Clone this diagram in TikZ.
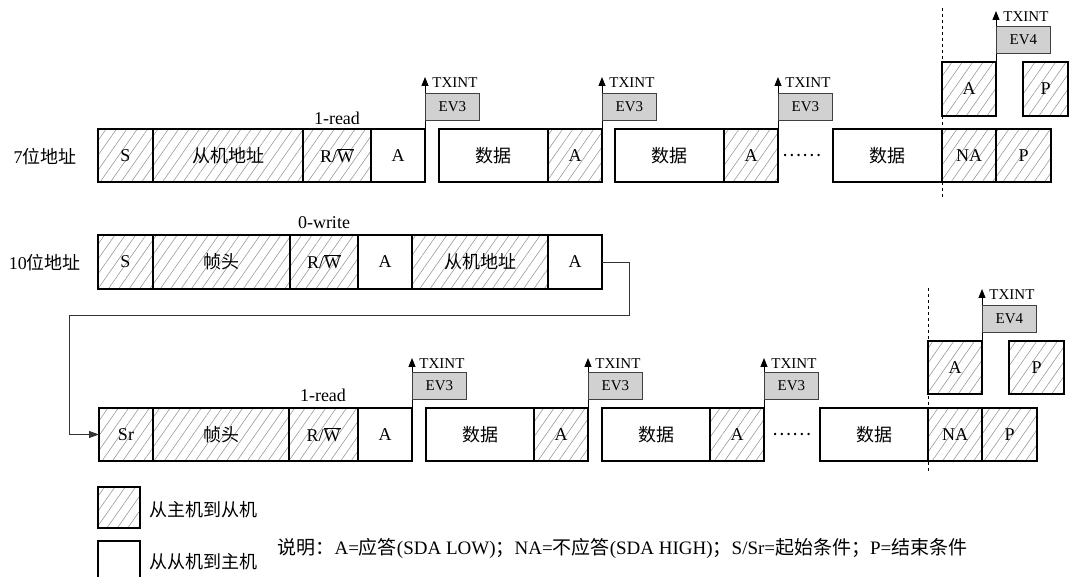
\documentclass[tikz,border=0pt]{standalone}
\usepackage{fontspec}
\setmainfont{Liberation Serif}
\newfontfamily\cjk{Noto Sans CJK SC}
\usetikzlibrary{positioning,arrows.meta,calc,patterns.meta}
\tikzset{
  fld/.style={draw,line width=1.6pt,minimum height=53pt,inner sep=0pt,outer sep=0pt,
    font=\fontsize{18}{20}\selectfont},
  hat/.style={pattern={Lines[angle=55,distance=8.5pt,line width=0.5pt]},pattern color=black!45}, % master -> slave
  wht/.style={fill=white},                                                                   % slave -> master
  evbox/.style={draw=black!75,fill=black!18,line width=0.8pt,minimum width=54pt,minimum height=27pt,
    inner sep=0pt,anchor=south west,font=\fontsize{15}{17}\selectfont},
  txarr/.style={-{Triangle[length=9pt,width=7pt]},line width=0.9pt},
  txlbl/.style={anchor=west,xshift=6pt,yshift=-6pt,inner sep=1pt,font=\fontsize{15}{17}\selectfont},
  link/.style={line width=0.9pt,black!80},
  vguide/.style={dashed,line width=0.7pt},
  lbl/.style={font=\fontsize{18}{20}\selectfont},
}
\newcommand{\rwbar}{R/$\overline{\hbox{W}}$}

\begin{document}
\begin{tikzpicture}[x=1pt,y=-1pt]
  \useasboundingbox (0,0) rectangle (1069,577);
  % ---- 7-bit address ----
  \node[lbl] (r1) at (45,157) {7{\cjk 位地址}};
  \foreach \a/\b/\s/\t/\nm in {98/153/hat/S/s1, 153/303/hat/{\cjk 从机地址}/ad1,
      303/371/hat/{\rwbar}/rw1, 371/425/wht/A/a1,
      439/548/wht/{\cjk 数据}/d11, 548/602/hat/A/a11,
      615/724/wht/{\cjk 数据}/d12, 724/778/hat/A/a12,
      833/942/wht/{\cjk 数据}/d13, 942/996/hat/NA/na1, 996/1051/hat/P/p1}
    \node[fld,\s,minimum width={\b-\a}] (\nm) at ({(\a+\b)/2},155.5) {\t};
  \node[fld,hat,minimum width=54,minimum height=54] (ua1) at (969,89) {A};
  \node[fld,hat,minimum width=45,minimum height=54] (up1) at (1045.5,89) {P};
  \node[lbl] (rd1) at (337,118) {1-read};
  \node[lbl] (dt1) at (802,155) {\cjk ……};
  \foreach \nm in {a1,a11,a12}{
    \draw[txarr] (\nm.north east) -- ++(0,-52) node[txlbl] {TXINT};
    \node[evbox] (ev\nm) at ([yshift=8pt]\nm.north east) {EV3};
  }
  \draw[txarr] (ua1.north east) -- ++(0,-51) node[txlbl] {TXINT};
  \node[evbox] (evua1) at ([yshift=8pt]ua1.north east) {EV4};
  \draw[vguide] (942,8) -- (942,197);

  % ---- 10-bit address, first part ----
  \node[lbl] (r2) at (45,263) {10{\cjk 位地址}};
  \foreach \a/\b/\s/\t/\nm in {98/153/hat/S/s2, 153/290/hat/{\cjk 帧头}/fh2,
      290/358/hat/{\rwbar}/rw2, 358/412/wht/A/a2,
      412/548/hat/{\cjk 从机地址}/ad2, 548/602/wht/A/a22}
    \node[fld,\s,minimum width={\b-\a},minimum height=54] (\nm) at ({(\a+\b)/2},262) {\t};
  \node[lbl] (wr2) at (324,223) {0-write};

  % ---- 10-bit address, repeated start ----
  \foreach \a/\b/\s/\t/\nm in {99/153/hat/Sr/sr3, 153/289/hat/{\cjk 帧头}/fh3,
      289/358/hat/{\rwbar}/rw3, 358/412/wht/A/a3,
      426/534/wht/{\cjk 数据}/d31, 534/588/hat/A/a31,
      602/710/wht/{\cjk 数据}/d32, 710/764/hat/A/a32,
      820/928/wht/{\cjk 数据}/d33, 928/982/hat/NA/na3, 982/1037/hat/P/p3}
    \node[fld,\s,minimum width={\b-\a}] (\nm) at ({(\a+\b)/2},434.5) {\t};
  \node[fld,hat,minimum width=54,minimum height=53] (ua3) at (955,367.5) {A};
  \node[fld,hat,minimum width=55,minimum height=53] (up3) at (1036.5,367.5) {P};
  \node[lbl] (rd3) at (323,395) {1-read};
  \node[lbl] (dt3) at (792,434) {\cjk ……};
  \foreach \nm in {a3,a31,a32}{
    \draw[txarr] (\nm.north east) -- ++(0,-50) node[txlbl] {TXINT};
    \node[evbox] (ev\nm) at ([yshift=8pt]\nm.north east) {EV3};
  }
  \draw[txarr] (ua3.north east) -- ++(0,-52) node[txlbl] {TXINT};
  \node[evbox] (evua3) at ([yshift=8pt]ua3.north east) {EV4};
  \draw[vguide] (928,288) -- (928,473);

  % loop back into the repeated start
  \coordinate (tr) at (629,315);
  \coordinate (tl) at (69,315);
  \draw[link,-{Triangle[length=10pt,width=7pt]}] (a22.east) -| (tr) -- (tl) |- (sr3.west);

  % ---- legend ----
  \node[fld,hat,minimum width=42,minimum height=41] (lg1) at (119,507.5) {};
  \node[lbl,anchor=west] (lt1) at (146,510) {\cjk 从主机到从机};
  \node[fld,wht,minimum width=42,minimum height=40] (lg2) at (119,561) {};
  \node[lbl,anchor=west] (lt2) at (146,562) {\cjk 从从机到主机};
  \node[anchor=west,font=\fontsize{19}{21}\selectfont] (note) at (274,548)
    {{\cjk 说明：}A={\cjk 应答}(SDA LOW){\cjk ；}NA={\cjk 不应答}(SDA HIGH){\cjk ；}S/Sr={\cjk 起始条件；}P={\cjk 结束条件}};
\end{tikzpicture}
\end{document}
